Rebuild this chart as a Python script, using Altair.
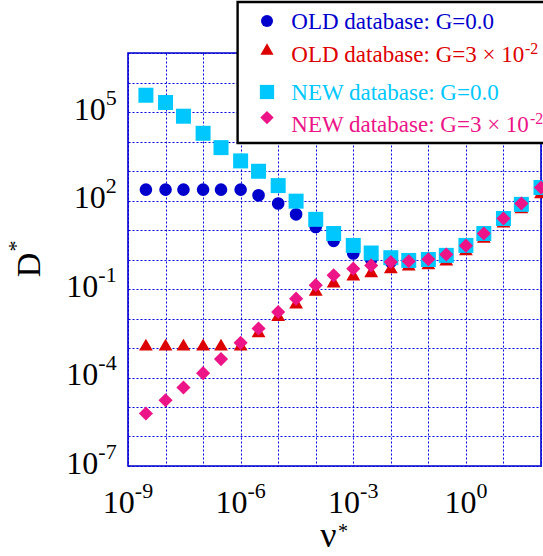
import altair as alt
import pandas as pd

# ---------------- data ----------------
nu = [3e-9, 1e-8, 3e-8, 1e-7, 3e-7, 1e-6, 3e-6, 1e-5, 3e-5, 1e-4, 3e-4,
      1e-3, 3e-3, 1e-2, 3e-2, 0.1, 0.3, 1, 3, 10, 30, 100]
old_g0 = [234, 234, 234, 234, 234, 234, 150, 79, 34, 12.6, 4.3,
          1.6, 1.0, 0.83, 0.88, 0.95, 1.3, 2.9, 7.4, 24, 72, 270]
old_g3 = [1.3e-3, 1.3e-3, 1.3e-3, 1.3e-3, 1.3e-3, 1.3e-3, 3.7e-3, 1.3e-2, 3.5e-2, 9.5e-2, 0.18,
          0.31, 0.40, 0.54, 0.68, 0.74, 1.0, 2.2, 5.9, 19.5, 59, 190]
new_g0 = [3.7e5, 2.1e5, 7.2e4, 1.9e4, 6.2e3, 2.2e3, 980, 320, 95, 23, 7.6,
          3.0, 1.66, 1.15, 0.93, 1.0, 1.38, 3.0, 7.6, 24.5, 74, 275]
new_g3 = [6.0e-6, 1.7e-5, 4.6e-5, 1.4e-4, 4.2e-4, 1.5e-3, 4.6e-3, 1.66e-2, 4.7e-2, 0.135, 0.29,
          0.49, 0.63, 0.82, 0.87, 1.02, 1.48, 2.95, 7.6, 24.5, 79, 275]

series_names = ["OLD database: G=0.0", "OLD database: G=3 \u00d7 10",
                "NEW database: G=0.0", "NEW database: G=3 \u00d7 10"]
series_sup = ["", "-2", "", "-2"]
series_values = [old_g0, old_g3, new_g0, new_g3]

x_tick_exp = [-9, -6, -3, 0]
y_tick_exp = [5, 2, -1, -4, -7]
x_grid_exp = list(range(-9, 3))
y_grid_exp = list(range(-7, 8))

# ---------------- styles ----------------
colors = ["#0000CC", "#DD0000", "#00C8FF", "#EC1487"]
shapes = ["circle", "triangle-up", "square", "diamond"]
sizes = [160, 190, 225, 200]
FONT = "Liberation Serif"
GRID = "#0000DD"

W, H = 413, 413

xs = alt.Scale(type="log", domain=[1e-9, 1e2], nice=False)
ys = alt.Scale(type="log", domain=[1e-7, 1e7], nice=False)

xaxis = alt.Axis(values=[10.0 ** e for e in x_grid_exp], grid=True, gridDash=[2, 2],
                 gridColor=GRID, gridWidth=1, gridOpacity=1, labels=False, ticks=False,
                 domain=False, title=None)
yaxis = alt.Axis(values=[10.0 ** e for e in y_grid_exp], grid=True, gridDash=[2, 2],
                 gridColor=GRID, gridWidth=1, gridOpacity=1, labels=False, ticks=False,
                 domain=False, title=None)

def X(field):
    return alt.X(field, scale=xs, axis=xaxis)

def Y(field):
    return alt.Y(field, scale=ys, axis=yaxis)

layers = []

# data points, drawn in legend order
for i, vals in enumerate(series_values):
    df = pd.DataFrame({"nu": nu, "D": vals})
    layers.append(
        alt.Chart(df).mark_point(filled=True, shape=shapes[i], size=sizes[i],
                                 opacity=1, strokeWidth=0, color=colors[i]).encode(
            x=X("nu:Q"), y=Y("D:Q"))
    )

# ---------------- tick labels ----------------
def exp_str(e):
    return "-" + str(-e) if e < 0 else str(e)

ydf = pd.DataFrame({"v": [10.0 ** e for e in y_tick_exp],
                    "e": y_tick_exp,
                    "s": [exp_str(e) for e in y_tick_exp]})
for cond, xpos in [("datum.e < 0", -29.7), ("datum.e >= 0", -22.2)]:
    base = alt.Chart(ydf).transform_filter(cond)
    layers.append(base.mark_text(font=FONT, fontSize=32, align="right", baseline="alphabetic",
                                 dy=7.5, color="black").encode(
        x=alt.value(xpos), y=Y("v:Q"), text=alt.value("10")))
    layers.append(base.mark_text(font=FONT, fontSize=22, align="left", baseline="alphabetic",
                                 dy=-7.5, color="black").encode(
        x=alt.value(xpos), y=Y("v:Q"), text="s:N"))

xdf = pd.DataFrame({"v": [10.0 ** e for e in x_tick_exp],
                    "e": x_tick_exp,
                    "s": [exp_str(e) for e in x_tick_exp]})
for cond, dxv in [("datum.e < 0", 6.8), ("datum.e >= 0", 10.5)]:
    base = alt.Chart(xdf).transform_filter(cond)
    layers.append(base.mark_text(font=FONT, fontSize=32, align="right", baseline="alphabetic",
                                 dx=dxv, color="black").encode(
        x=X("v:Q"), y=alt.value(H + 47), text=alt.value("10")))
    layers.append(base.mark_text(font=FONT, fontSize=22, align="left", baseline="alphabetic",
                                 dx=dxv, color="black").encode(
        x=X("v:Q"), y=alt.value(H + 32), text="s:N"))

one = pd.DataFrame({"k": [0]})

# ---------------- axis titles ----------------
layers.append(alt.Chart(one).mark_text(font=FONT, fontSize=34, angle=270, align="center",
                                       baseline="alphabetic", color="black").encode(
    x=alt.value(-88.4), y=alt.value(212), text=alt.value("D")))
layers.append(alt.Chart(one).mark_text(font=FONT, fontSize=22, angle=270, align="center",
                                       baseline="middle", color="black").encode(
    x=alt.value(-112), y=alt.value(193), text=alt.value("*")))
layers.append(alt.Chart(one).mark_text(font=FONT, fontSize=36, align="center",
                                       baseline="alphabetic", color="black").encode(
    x=alt.value(200.5), y=alt.value(494), text=alt.value("\u03bd")))
layers.append(alt.Chart(one).mark_text(font=FONT, fontSize=20, align="center",
                                       baseline="middle", color="black").encode(
    x=alt.value(215), y=alt.value(479), text=alt.value("*")))

# ---------------- legend box ----------------
layers.append(alt.Chart(one).mark_rect(fill="white", stroke="black", strokeWidth=2.4).encode(
    x=alt.value(109.6), x2=alt.value(460), y=alt.value(-51), y2=alt.value(90)))

sym_y = [-32, -4, 39, 64.6]
txt_y = [-24.4, 9, 47.3, 79]
sup_x = [0, 397, 0, 402]
for i in range(4):
    layers.append(alt.Chart(one).mark_point(filled=True, shape=shapes[i], size=sizes[i] * 0.9,
                                            opacity=1, strokeWidth=0, color=colors[i]).encode(
        x=alt.value(139), y=alt.value(sym_y[i])))
    layers.append(alt.Chart(one).mark_text(font=FONT, fontSize=23, align="left",
                                           baseline="alphabetic", color=colors[i]).encode(
        x=alt.value(163.3), y=alt.value(txt_y[i]), text=alt.value(series_names[i])))
    if series_sup[i]:
        layers.append(alt.Chart(one).mark_text(font=FONT, fontSize=16, align="left",
                                               baseline="alphabetic", color=colors[i]).encode(
            x=alt.value(sup_x[i]), y=alt.value(txt_y[i] - 8.5), text=alt.value(series_sup[i])))

chart = alt.layer(*layers).properties(
    width=W, height=H,
    background="white",
    autosize=alt.AutoSizeParams(type="none"),
    padding={"left": 128, "top": 53, "right": 2, "bottom": 90},
).configure_view(stroke="#0000CC", strokeWidth=1.6)

chart.save("out.html", embed_options={"renderer": "svg", "actions": False})
